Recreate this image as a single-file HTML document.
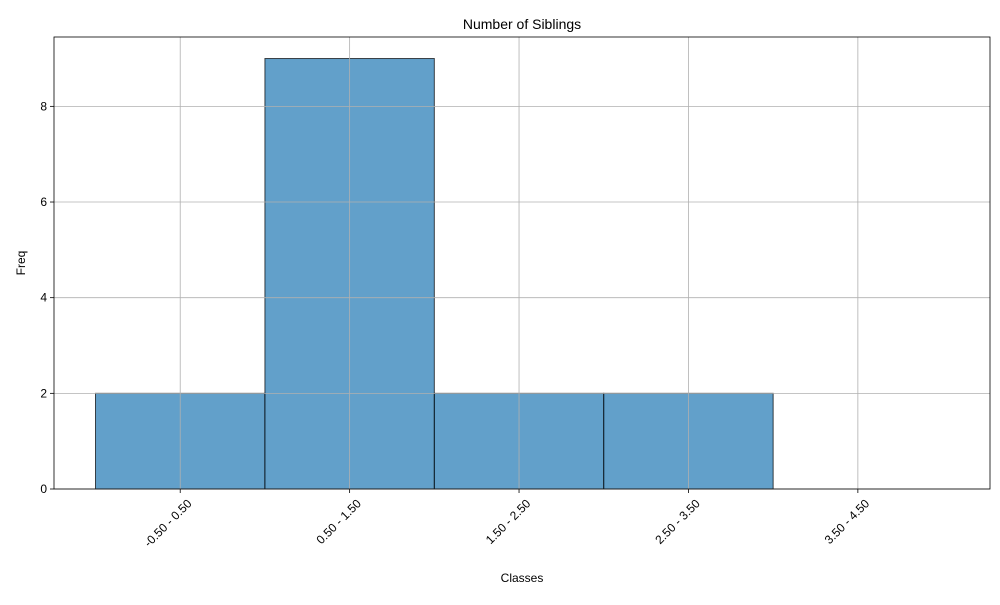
<!DOCTYPE html>
<html><head><meta charset="utf-8"><style>
body{margin:0;background:#fff;}
svg{font-family:"Liberation Sans","DejaVu Sans",sans-serif;}
</style></head><body>
<svg id="chart" width="1000" height="600"></svg>
<script>
const categories=["-0.50 - 0.50","0.50 - 1.50","1.50 - 2.50","2.50 - 3.50","3.50 - 4.50"];
const centers=[0,1,2,3,4];
const freqs=[2,9,2,2,0];
const yTicks=[0,2,4,6,8];
const L=54,R=990,T=37,B=489;
const xmin=-0.745,xmax=4.78,ymin=0,ymax=9.45;
const sx=v=>L+(v-xmin)/(xmax-xmin)*(R-L);
const sy=v=>B-(v-ymin)/(ymax-ymin)*(B-T);
const NS="http://www.w3.org/2000/svg";
const svg=document.getElementById('chart');
function mk(tag,attrs,parent){const e=document.createElementNS(NS,tag);for(const k in attrs)e.setAttribute(k,attrs[k]);(parent||svg).appendChild(e);return e;}
centers.forEach((c,i)=>{
  const r=mk('rect',{x:sx(c-0.5),y:sy(freqs[i]),width:sx(c+0.5)-sx(c-0.5),height:sy(0)-sy(freqs[i]),fill:'#1f77b4','fill-opacity':0.7,stroke:'#000','stroke-opacity':0.7,'stroke-width':1});
  
  
});
centers.forEach((c,i)=>{
  const g=mk('line',{x1:sx(c),x2:sx(c),y1:T,y2:B,stroke:'#b0b0b0','stroke-width':0.8});
  
  
  const tk=mk('line',{x1:sx(c),x2:sx(c),y1:B,y2:B+4,stroke:'#000','stroke-width':0.8});
  
  
  const x=sx(c)+6,y=B+9;
  const t=mk('text',{x:x,y:y,'font-size':12,'text-anchor':'end',transform:`rotate(-45 ${x} ${y})`,'dominant-baseline':'hanging'});
  t.textContent=categories[i];
  
  
});
yTicks.forEach(v=>{
  const g=mk('line',{x1:L,x2:R,y1:sy(v),y2:sy(v),stroke:'#b0b0b0','stroke-width':0.8});
  
  
  const tk=mk('line',{x1:L-4,x2:L,y1:sy(v),y2:sy(v),stroke:'#000','stroke-width':0.8});
  
  
  const t=mk('text',{x:L-7,y:sy(v)+4,'font-size':12,'text-anchor':'end'});
  t.textContent=v;
  
  
});
const fr=mk('rect',{x:L,y:T,width:R-L,height:B-T,fill:'none',stroke:'#000','stroke-width':0.8});


const ti=mk('text',{x:(L+R)/2,y:29,'font-size':14,'text-anchor':'middle'});ti.textContent='Number of Siblings';


const xl=mk('text',{x:(L+R)/2,y:582,'font-size':12,'text-anchor':'middle'});xl.textContent='Classes';


const yl=mk('text',{x:25,y:263,'font-size':12,'text-anchor':'middle',transform:'rotate(-90 25 263)'});yl.textContent='Freq';


</script>
</body></html>
